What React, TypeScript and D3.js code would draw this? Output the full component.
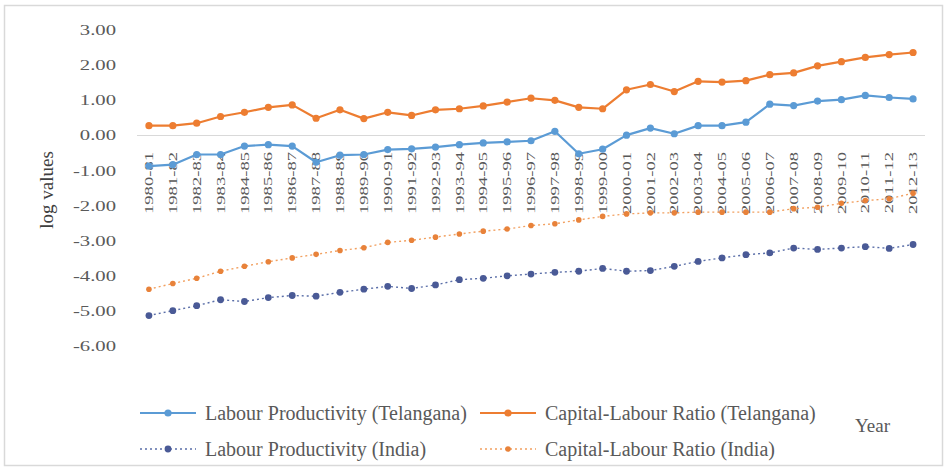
import React from "react";
import * as d3 from "d3";

// Financial years on the category axis
const years = [
  "1980-81", "1981-82", "1982-83", "1983-84", "1984-85", "1985-86", "1986-87", "1987-88",
  "1988-89", "1989-90", "1990-91", "1991-92", "1992-93", "1993-94", "1994-95", "1995-96",
  "1996-97", "1997-98", "1998-99", "1999-00", "2000-01", "2001-02", "2002-03", "2003-04",
  "2004-05", "2005-06", "2006-07", "2007-08", "2008-09", "2009-10", "2010-11", "2011-12",
  "2012-13",
];

// log values per series
const lpTelangana = [
  -0.87, -0.83, -0.54, -0.54, -0.30, -0.26, -0.30, -0.76, -0.56, -0.54, -0.40, -0.38,
  -0.33, -0.26, -0.21, -0.18, -0.15, 0.12, -0.52, -0.39, 0.01, 0.21, 0.05, 0.28,
  0.28, 0.38, 0.89, 0.85, 0.98, 1.02, 1.14, 1.08, 1.04,
];
const klTelangana = [
  0.28, 0.28, 0.35, 0.54, 0.66, 0.80, 0.87, 0.49, 0.73, 0.48, 0.66, 0.57,
  0.73, 0.76, 0.84, 0.95, 1.06, 1.0, 0.80, 0.76, 1.30, 1.45, 1.25, 1.54,
  1.52, 1.56, 1.73, 1.78, 1.98, 2.10, 2.22, 2.30, 2.36,
];
const lpIndia = [
  -5.12, -4.98, -4.84, -4.67, -4.72, -4.61, -4.55, -4.57, -4.46, -4.37, -4.29, -4.35,
  -4.25, -4.10, -4.06, -3.99, -3.94, -3.89, -3.86, -3.78, -3.86, -3.84, -3.72, -3.58,
  -3.48, -3.39, -3.34, -3.20, -3.24, -3.20, -3.16, -3.21, -3.10,
];
const klIndia = [
  -4.37, -4.21, -4.06, -3.86, -3.72, -3.59, -3.48, -3.38, -3.27, -3.19, -3.04, -2.98,
  -2.89, -2.80, -2.72, -2.66, -2.56, -2.51, -2.40, -2.30, -2.23, -2.20, -2.20, -2.18,
  -2.18, -2.18, -2.18, -2.08, -2.04, -1.93, -1.85, -1.80, -1.64,
];

const yTicks = [3, 2, 1, 0, -1, -2, -3, -4, -5, -6];

const seriesNames = [
  "Labour Productivity (Telangana)",
  "Capital-Labour Ratio (Telangana)",
  "Labour Productivity (India)",
  "Capital-Labour Ratio (India)",
];

type Series = {
  name: string;
  values: number[];
  line: string;
  marker: string;
  width: number;
  dash?: string;
  r: number;
};

const series: Series[] = [
  { name: seriesNames[0], values: lpTelangana, line: "#5B9BD5", marker: "#5B9BD5", width: 2.2, r: 3.6 },
  { name: seriesNames[1], values: klTelangana, line: "#ED7D31", marker: "#ED7D31", width: 2.2, r: 3.6 },
  { name: seriesNames[2], values: lpIndia, line: "#5A6EA8", marker: "#4A5A96", width: 1.4, dash: "2 3", r: 3.4 },
  { name: seriesNames[3], values: klIndia, line: "#F2A060", marker: "#E8823A", width: 1.4, dash: "2 3", r: 2.8 },
];

const W = 946;
const H = 467;
const plotLeft = 137;
const plotRight = 925;
const plotTop = 30;
const plotBottom = 346.5;
const textColor = "#595959";
const serif = "'Liberation Serif', 'Times New Roman', serif";
const stretch = 1.38;

export default function App() {
  const x = d3.scaleBand<string>().domain(years).range([plotLeft, plotRight]);
  const y = d3.scaleLinear().domain([-6, 3]).range([plotBottom, plotTop]);
  const cx = (d: string) => (x(d) ?? 0) + x.bandwidth() / 2;

  const lineGen = d3
    .line<number>()
    .x((_, i) => cx(years[i]))
    .y((v) => y(v));

  const legendRows = [
    { y: 413, items: [series[0], series[1]] },
    { y: 449, items: [series[2], series[3]] },
  ];
  const legendCols = [140, 480];

  return (
    <svg
      width={W}
      height={H}
      style={{ position: "absolute", left: 0, top: 0, background: "#fff" }}
      fontFamily={serif}
    >
      <rect x={4.5} y={5.5} width={W - 8} height={H - 7} fill="#fff" stroke="#d9d9d9" strokeWidth={1.5} />

      {/* y tick labels */}
      {yTicks.map((t) => (
        <text
          key={t}
          transform={`translate(116,${y(t)}) scale(${stretch},1)`}
          textAnchor="end"
          dominantBaseline="central"
          fontSize={15}
          fill={textColor}
        >
          {t.toFixed(2)}
        </text>
      ))}

      {/* y axis title */}
      <text
        transform={`translate(46,190) rotate(-90)`}
        textAnchor="middle"
        dominantBaseline="central"
        fontSize={19}
        fill="#404040"
      >
        log values
      </text>

      {/* category axis at zero */}
      <line x1={plotLeft} x2={plotRight} y1={y(0)} y2={y(0)} stroke="#d9d9d9" strokeWidth={1.2} />

      {/* category labels */}
      {years.map((yr) => (
        <text
          key={yr}
          transform={`translate(${cx(yr)},152) rotate(-90) scale(${stretch},1)`}
          textAnchor="end"
          dominantBaseline="central"
          fontSize={13.5}
          fill={textColor}
        >
          {yr}
        </text>
      ))}

      {/* series */}
      {series.map((s) => (
        <g key={s.name}>
          <path
            d={lineGen(s.values) ?? ""}
            fill="none"
            stroke={s.line}
            strokeWidth={s.width}
            strokeDasharray={s.dash}
            strokeLinejoin="round"
          />
          {s.values.map((v, i) => (
            <circle key={i} cx={cx(years[i])} cy={y(v)} r={s.r} fill={s.marker} />
          ))}
        </g>
      ))}

      {/* legend */}
      {legendRows.map((row, ri) =>
        row.items.map((s, ci) => {
          const lx = legendCols[ci];
          return (
            <g key={`${ri}-${ci}`}>
              <line
                x1={lx}
                x2={lx + 56}
                y1={row.y}
                y2={row.y}
                stroke={s.line}
                strokeWidth={s.width}
                strokeDasharray={s.dash}
              />
              <circle cx={lx + 28} cy={row.y} r={s.r} fill={s.marker} />
              <text
                x={lx + 65}
                y={row.y}
                dominantBaseline="central"
                fontSize={20}
                fill={textColor}
              >
                {s.name}
              </text>
            </g>
          );
        })
      )}

      <text x={855} y={425} dominantBaseline="central" fontSize={19} fill={textColor}>
        Year
      </text>
    </svg>
  );
}
